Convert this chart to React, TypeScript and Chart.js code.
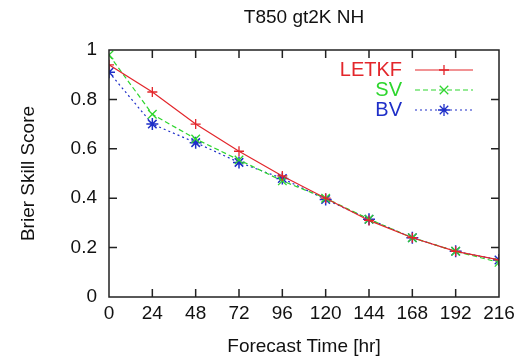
import React, { useEffect, useRef } from "react";
import { Chart, registerables } from "chart.js";

Chart.register(...registerables);

const hours = [0, 24, 48, 72, 96, 120, 144, 168, 192, 216];
const letkf = [0.94, 0.83, 0.70, 0.59, 0.49, 0.40, 0.31, 0.24, 0.185, 0.15];
const sv = [0.98, 0.74, 0.64, 0.555, 0.47, 0.40, 0.315, 0.24, 0.185, 0.14];
const bv = [0.91, 0.70, 0.625, 0.545, 0.48, 0.395, 0.315, 0.24, 0.185, 0.15];
const yTicks = [0, 0.2, 0.4, 0.6, 0.8, 1];
const chartTitle = "T850 gt2K NH";

const FONT = "'Liberation Sans', Arial, Helvetica, sans-serif";

const frameTicks = {
  id: "frameTicks",
  afterDatasetsDraw(chart: any) {
    const { ctx, chartArea: a, scales } = chart;
    ctx.save();
    ctx.strokeStyle = "#222";
    ctx.lineWidth = 1.5;
    ctx.strokeRect(a.left, a.top, a.right - a.left, a.bottom - a.top);
    const L = 8;
    ctx.beginPath();
    for (const h of hours) {
      const x = scales.x.getPixelForValue(h);
      if (h === 0 || h === 216) continue;
      ctx.moveTo(x, a.bottom);
      ctx.lineTo(x, a.bottom - L);
      ctx.moveTo(x, a.top);
      ctx.lineTo(x, a.top + L);
    }
    for (const v of yTicks) {
      if (v === 0 || v === 1) continue;
      const y = scales.y.getPixelForValue(v);
      ctx.moveTo(a.left, y);
      ctx.lineTo(a.left + L, y);
      ctx.moveTo(a.right, y);
      ctx.lineTo(a.right - L, y);
    }
    ctx.stroke();
    ctx.fillStyle = "#111";
    ctx.font = `19px ${FONT}`;
    ctx.textAlign = "center";
    ctx.textBaseline = "middle";
    ctx.fillText(chartTitle, (a.left + a.right) / 2, 18);
    ctx.restore();
  },
};

function drawMarker(ctx: CanvasRenderingContext2D, style: string, x: number, y: number, r: number, color: string) {
  ctx.save();
  ctx.strokeStyle = color;
  ctx.lineWidth = 1.3;
  ctx.beginPath();
  if (style === "cross" || style === "star") {
    ctx.moveTo(x - r, y); ctx.lineTo(x + r, y);
    ctx.moveTo(x, y - r); ctx.lineTo(x, y + r);
  }
  if (style === "crossRot" || style === "star") {
    const d = r * 0.7071;
    ctx.moveTo(x - d, y - d); ctx.lineTo(x + d, y + d);
    ctx.moveTo(x - d, y + d); ctx.lineTo(x + d, y - d);
  }
  ctx.stroke();
  ctx.restore();
}

const keyLegend = {
  id: "keyLegend",
  afterDraw(chart: any) {
    const { ctx, chartArea: a } = chart;
    ctx.save();
    ctx.font = `20px ${FONT}`;
    ctx.textAlign = "right";
    ctx.textBaseline = "middle";
    chart.data.datasets.forEach((ds: any, i: number) => {
      const y = a.top + 20 + i * 20;
      const tx = a.right - 97;
      ctx.fillStyle = ds.borderColor;
      ctx.fillText(ds.label, tx, y);
      ctx.strokeStyle = ds.borderColor;
      ctx.lineWidth = 1.2;
      ctx.setLineDash(ds.borderDash || []);
      ctx.beginPath();
      ctx.moveTo(a.right - 84, y);
      ctx.lineTo(a.right - 26, y);
      ctx.stroke();
      ctx.setLineDash([]);
      drawMarker(ctx, ds.pointStyle, a.right - 55, y, ds.pointRadius, ds.borderColor);
    });
    ctx.restore();
  },
};

export default function App() {
  const ref = useRef<HTMLCanvasElement | null>(null);
  useEffect(() => {
    if (!ref.current) return;
    const mk = (arr: number[]) => hours.map((h, i) => ({ x: h, y: arr[i] }));
    const chart = new Chart(ref.current, {
      type: "line",
      data: {
        datasets: [
          { label: "LETKF", data: mk(letkf), borderColor: "#e3262b", backgroundColor: "#e3262b", borderWidth: 1.2, pointStyle: "cross", pointRadius: 5, pointBorderWidth: 1.3, fill: false, tension: 0 },
          { label: "SV", data: mk(sv), borderColor: "#2ed62e", backgroundColor: "#2ed62e", borderWidth: 1.2, borderDash: [5, 3], pointStyle: "crossRot", pointRadius: 6, pointBorderWidth: 1.3, fill: false, tension: 0 },
          { label: "BV", data: mk(bv), borderColor: "#1f2fc8", backgroundColor: "#1f2fc8", borderWidth: 1.2, borderDash: [2, 3], pointStyle: "star", pointRadius: 6, pointBorderWidth: 1.5, fill: false, tension: 0 },
        ],
      },
      options: {
        animation: false,
        responsive: false,
        maintainAspectRatio: false,
        layout: { padding: { left: 0, right: 22, top: 50, bottom: 0 } },
        plugins: {
          legend: { display: false },
          tooltip: { enabled: false },
          title: { display: false },
        },
        scales: {
          x: {
            type: "linear",
            min: 0,
            max: 216,
            afterBuildTicks: (s: any) => { s.ticks = hours.map((v) => ({ value: v })); },
            afterFit: (s: any) => { s.height = 61; },
            ticks: { color: "#111", font: { family: FONT, size: 19 }, padding: 5, maxRotation: 0, autoSkip: false },
            grid: { display: false, drawTicks: false },
            border: { display: false },
            title: { display: true, text: "Forecast Time [hr]", color: "#111", font: { family: FONT, size: 19 }, padding: { top: 4, bottom: 0 } },
          },
          y: {
            min: 0,
            max: 1,
            afterBuildTicks: (s: any) => { s.ticks = yTicks.map((v) => ({ value: v })); },
            afterFit: (s: any) => { s.width = 109; },
            ticks: { color: "#111", font: { family: FONT, size: 19 }, padding: 12, callback: (v: any) => String(Math.round(v * 10) / 10) },
            grid: { display: false, drawTicks: false },
            border: { display: false },
            title: { display: true, text: "Brier Skill Score", color: "#111", font: { family: FONT, size: 19 }, padding: { top: 17, bottom: 0 } },
          },
        },
      },
      plugins: [frameTicks, keyLegend],
    });
    return () => chart.destroy();
  }, []);
  return (
    <div style={{ position: "fixed", left: 0, top: 0, width: 521, height: 358, background: "#fff" }}>
      <canvas ref={ref} width={521} height={358} style={{ width: 521, height: 358 }} />
    </div>
  );
}
